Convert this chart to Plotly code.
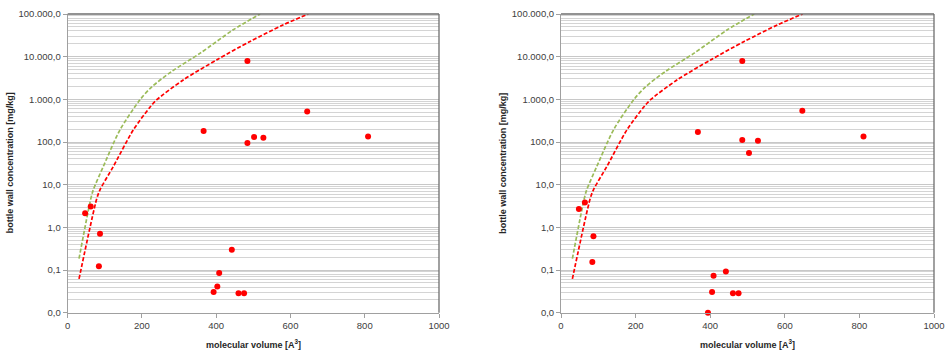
import plotly.graph_objects as go

# ---- data ----
left_x = [484, 366, 484, 502, 527, 645, 809, 47, 62, 87, 84, 442, 408, 403, 393, 460, 475]
left_y = [7900, 181, 95, 131, 126, 521, 135, 2.13, 3.1, 0.71, 0.122, 0.30, 0.0855, 0.041, 0.0307, 0.0285, 0.0285]

right_x = [486, 367, 486, 528, 504, 647, 811, 48, 64, 87, 84, 442, 409, 405, 461, 476, 394]
right_y = [7900, 171, 111, 107, 55, 541, 135, 2.7, 3.8, 0.62, 0.155, 0.092, 0.073, 0.0307, 0.0285, 0.0285, 0.01]

green_x = [30.5, 62, 69, 96, 141, 195, 226, 280, 357, 446, 518]
green_y = [0.185, 4.6, 7.6, 26.8, 194, 980, 1940, 4500, 12100, 42700, 100000]

red_x = [30.5, 78, 87, 123, 177, 222, 240, 312, 402, 491, 581, 648]
red_y = [0.062, 4.62, 7.6, 26.8, 194, 660, 980, 2880, 8460, 22700, 55800, 100000]

y_tickvals = [0.01, 0.1, 1, 10, 100, 1000, 10000, 100000]
y_ticktext = ["0,0", "0,1", "1,0", "10,0", "100,0", "1.000,0", "10.000,0", "100.000,0"]
x_tickvals = [0, 200, 400, 600, 800, 1000]

x_title = "molecular volume [A<sup>3</sup>]"
y_title = "bottle wall concentration [mg/kg]"

FONT = "Liberation Sans, Arial, sans-serif"
W, H = 950, 360


def fx(px):
    return px / W


def fy(py):
    return 1 - py / H


dom_x = [(fx(67.7), fx(439)), (fx(561), fx(934))]
dom_y = (fy(312.7), fy(14))

minor_vals = [m * 10 ** e for e in range(-2, 5) for m in range(2, 10)]

fig = go.Figure()

panels = [(left_x, left_y), (right_x, right_y)]
for i, (px, py) in enumerate(panels):
    xa = "x" if i == 0 else "x2"
    ya = "y" if i == 0 else "y2"
    fig.add_trace(go.Scatter(x=green_x, y=green_y, mode="lines",
                             line=dict(color="#9bbb59", width=1.7, dash="4px,2px",
                                       shape="spline", smoothing=0.8),
                             xaxis=xa, yaxis=ya, showlegend=False, hoverinfo="skip"))
    fig.add_trace(go.Scatter(x=red_x, y=red_y, mode="lines",
                             line=dict(color="#ff0000", width=1.7, dash="4px,2px",
                                       shape="spline", smoothing=0.8),
                             xaxis=xa, yaxis=ya, showlegend=False, hoverinfo="skip"))
    fig.add_trace(go.Scatter(x=px, y=py, mode="markers",
                             marker=dict(color="#ff0000", size=6, line=dict(width=0)),
                             xaxis=xa, yaxis=ya, showlegend=False, cliponaxis=False))

tickfont = dict(family=FONT, size=9.5, color="#404040")
for i in range(2):
    sx = "" if i == 0 else "2"
    fig.layout["xaxis" + sx] = dict(
        domain=dom_x[i], range=[0, 1000], anchor="y" + sx,
        tickvals=x_tickvals, ticktext=[str(v) for v in x_tickvals],
        ticks="outside", ticklen=4, tickcolor="#a0a0a0",
        showline=True, linecolor="#a0a0a0", linewidth=1,
        showgrid=False, zeroline=False, tickfont=tickfont, automargin=False,
        ticklabeloverflow="allow")
    fig.layout["yaxis" + sx] = dict(
        domain=dom_y, type="log", range=[-2, 5], anchor="x" + sx,
        tickvals=y_tickvals, ticktext=y_ticktext,
        ticks="outside", ticklen=4, tickcolor="#a0a0a0",
        showline=True, linecolor="#a0a0a0", linewidth=1,
        showgrid=True, gridcolor="#c8c8c8", gridwidth=1.2,
        minor=dict(tickvals=minor_vals, showgrid=True, gridcolor="#d4d4d4",
                   gridwidth=1.2, ticks=""),
        zeroline=False, tickfont=tickfont, automargin=False,
        ticklabeloverflow="allow")
    # darker top/right frame of plot area
    fig.add_shape(type="line", xref="x" + sx + " domain", yref="y" + sx + " domain",
                  x0=0, x1=1, y0=1, y1=1, line=dict(color="#6e6e6e", width=1.3))
    fig.add_shape(type="line", xref="x" + sx + " domain", yref="y" + sx + " domain",
                  x0=1, x1=1, y0=0, y1=1, line=dict(color="#6e6e6e", width=1.3))
    # axis titles
    xc = (dom_x[i][0] + dom_x[i][1]) / 2
    fig.add_annotation(text="<b>" + x_title + "</b>", xref="paper", yref="paper",
                       x=xc, y=fy(344), xanchor="center", yanchor="middle",
                       showarrow=False,
                       font=dict(family=FONT, size=9, color="#262626"))
    fig.add_annotation(text="<b>" + y_title + "</b>", xref="paper", yref="paper",
                       x=fx(10 if i == 0 else 10 + 493.3),
                       y=(dom_y[0] + dom_y[1]) / 2, textangle=-90,
                       xanchor="center", yanchor="middle", showarrow=False,
                       font=dict(family=FONT, size=9, color="#262626"))

fig.update_layout(width=W, height=H, margin=dict(l=0, r=0, t=0, b=0),
                  paper_bgcolor="white", plot_bgcolor="white",
                  font=dict(family=FONT))

# remove the default page margin so the 950x360 figure fills the window exactly
fig.write_html("out.html",
               config={"displayModeBar": False},
               post_script="document.body.style.margin='0';"
                           "document.body.style.overflow='hidden';")
